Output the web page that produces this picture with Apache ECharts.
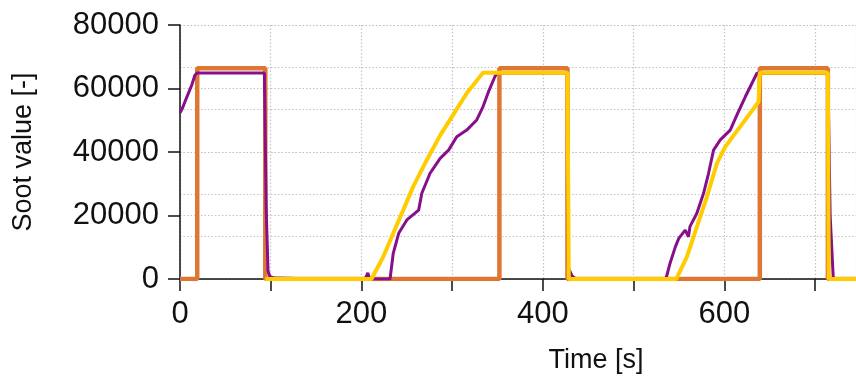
<!DOCTYPE html>
<html>
<head>
<meta charset="utf-8">
<script src="https://cdn.jsdelivr.net/npm/echarts@6/dist/echarts.min.js"></script>
<style>
html,body{margin:0;padding:0;background:#fff;}
#chart{width:856px;height:380px;}
</style>
</head>
<body>
<div id="chart"></div>
<script>
// ---- data (time in s, soot value) ----
const orangeT = [0,19,19,94,94,352,352,427,427,639,639,714,714,745];
const orangeV = [0,0,66400,66400,0,0,66400,66400,0,0,66400,66400,0,0];

const purpleT = [0,3,5,7.5,10,13,16.5,19,93,95,97,99,104,106,152,154,156,204,207,209,
  231.5,235,241,250,263,266.5,275.6,286.7,296,305,316,327,334,340,347,349,427,428,432,436,
  535.5,540,546,549.7,556.8,560.4,562,569.6,577,582.5,588,595.4,606.4,613.8,623,635.8,637,714,716.5,720,745];
const purpleV = [52300,54000,55500,57300,59000,61100,64250,64900,64900,22000,2500,800,300,0,0,600,0,0,1900,0,
  0,8100,14400,18600,21700,27000,33300,38000,40600,44800,46900,50100,54300,59000,63700,64900,64900,3500,1000,0,
  0,4900,10200,12800,15400,13300,16500,20700,27000,33300,40600,43800,46900,51700,57400,64800,64900,64900,20000,0,0];

const yellowT = [94,211,224,235,246,257,272,287,301,316,334,427,428.5,547,558.6,569.7,580.7,591.7,601,617.4,637.6,639,714,715,745];
const yellowV = [0,0,7000,14400,21700,29100,37500,45400,51700,58500,65000,65000,0,0,7000,16500,25900,36400,41700,48000,55800,65000,65000,0,0];

// axis settings
const xMin = 0, xMax = 745, xStep = 100, xLabelStep = 200;
const yMin = 0, yMax = 80000, yStep = 20000, yMinorSplits = 6;
const xTitle = 'Time [s]';
const yTitle = 'Soot value [-]';

function pairs(t, v) { return t.map((x, i) => [x, v[i]]); }

const chart = echarts.init(document.getElementById('chart'), null, {renderer: 'canvas'});
const gridLine = {show: true, lineStyle: {color: '#c4c4c4', width: 1.2, type: [1.5, 2]}};
const font = 'Arial, "Liberation Sans", sans-serif';

chart.setOption({
  animation: false,
  backgroundColor: '#fff',
  grid: {left: 180, right: 0, top: 25, bottom: 101, containLabel: false, outerBoundsMode: 'none'},
  xAxis: {
    type: 'value', min: xMin, max: xMax, interval: xStep,
    axisLine: {show: true, onZero: false, lineStyle: {color: '#111', width: 1.5}},
    axisTick: {show: true, inside: false, length: 12, lineStyle: {color: '#111', width: 1.5}},
    axisLabel: {
      show: true, margin: 20, fontSize: 31, color: '#111', fontFamily: font,
      showMaxLabel: false,
      formatter: v => (v % xLabelStep === 0 ? String(v) : '')
    },
    splitLine: gridLine,
    name: xTitle, nameLocation: 'middle', nameGap: 68,
    nameTextStyle: {fontSize: 27, color: '#111', fontFamily: font, padding: [0, 0, 0, 156]}
  },
  yAxis: [{
    type: 'value', min: yMin, max: yMax, interval: yStep,
    axisLine: {show: true, lineStyle: {color: '#111', width: 1.5}},
    axisTick: {show: true, inside: false, length: 12, lineStyle: {color: '#111', width: 1.5}},
    axisLabel: {show: true, margin: 21, fontSize: 31, color: '#111', fontFamily: font,
      formatter: v => String(v)},
    splitLine: gridLine,
    name: yTitle, nameLocation: 'middle', nameRotate: 90, nameGap: 143,
    nameTextStyle: {fontSize: 27, color: '#111', fontFamily: font}
  }, {
    type: 'value', min: yMin, max: yMax, interval: (yMax - yMin) / yMinorSplits, position: 'left',
    axisLine: {show: false}, axisTick: {show: false}, axisLabel: {show: false},
    splitLine: gridLine
  }],
  series: [
    {name: 'Orange', type: 'line', data: pairs(orangeT, orangeV), showSymbol: false, symbol: 'none',
     lineStyle: {color: '#DD7733', width: 4.5}, itemStyle: {color: '#DD7733'}, z: 2},
    {name: 'Purple', type: 'line', data: pairs(purpleT, purpleV), showSymbol: false, symbol: 'none',
     lineStyle: {color: '#86108A', width: 3}, itemStyle: {color: '#86108A'}, z: 3},
    {name: 'Yellow', type: 'line', data: pairs(yellowT, yellowV), showSymbol: false, symbol: 'none',
     lineStyle: {color: '#FFCC00', width: 4}, itemStyle: {color: '#FFCC00'}, z: 4}
  ]
});
</script>
</body>
</html>
